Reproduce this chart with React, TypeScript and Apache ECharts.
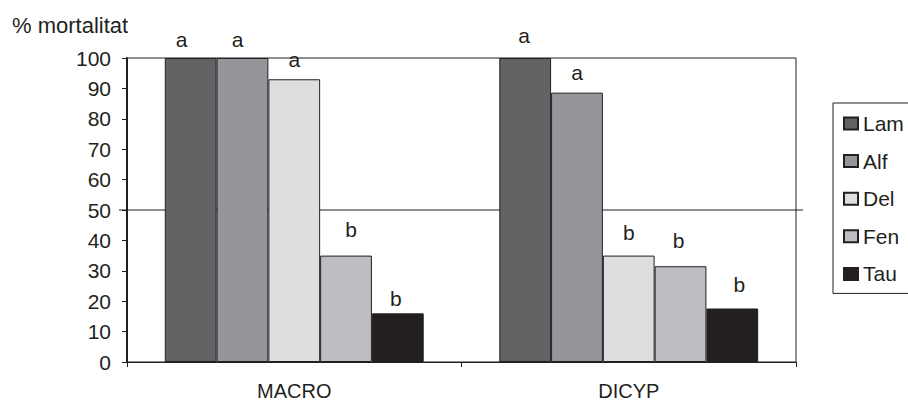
import React, { useEffect, useRef } from "react";
import * as echarts from "echarts";

const categories = ["MACRO", "DICYP"];
const seriesNames = ["Lam", "Alf", "Del", "Fen", "Tau"];
const seriesColors = ["#636365", "#959699", "#dddee0", "#bdbec1", "#231f20"];
// values per series: [MACRO, DICYP]
const lamValues = [100, 100];
const alfValues = [100, 88.6];
const delValues = [93, 35];
const fenValues = [35, 31.5];
const tauValues = [16, 17.6];
// significance letters per series: [MACRO, DICYP]
const lamLetters = ["a", "a"];
const alfLetters = ["a", "a"];
const delLetters = ["a", "b"];
const fenLetters = ["b", "b"];
const tauLetters = ["b", "b"];
const yTicks = [0, 10, 20, 30, 40, 50, 60, 70, 80, 90, 100];
const thresholdValue = 50;

// label nudges [dx, dy] per series per category (style only)
const labelNudges = [
  [[-9, 0], [-1, -4]],
  [[-5, 0], [0, -2]],
  [[0, -1], [0, -5]],
  [[5, -8], [-2, -7]],
  [[-2, 4], [7, -5]],
];

const FONT = "'Liberation Sans', Arial, sans-serif";
const FS = 21;

export default function App() {
  const ref = useRef<HTMLDivElement>(null);
  useEffect(() => {
    if (!ref.current) return;
    const chart = echarts.init(ref.current, null, { renderer: "svg" });
    const values = [lamValues, alfValues, delValues, fenValues, tauValues];
    const letters = [lamLetters, alfLetters, delLetters, fenLetters, tauLetters];
    const series = seriesNames.map((name, si) => ({
      name,
      type: "bar",
      barGap: "0%",
      barCategoryGap: "22.6%",
      itemStyle: { color: seriesColors[si], borderColor: "#231f20", borderWidth: 1 },
      data: values[si].map((v, ci) => ({
        value: v,
        label: {
          show: true,
          position: "top",
          distance: 8,
          formatter: letters[si][ci],
          offset: labelNudges[si][ci],
          color: "#231f20",
          fontSize: FS,
          fontFamily: FONT,
        },
      })),
    }));
    chart.setOption({
      animation: false,
      textStyle: { fontFamily: FONT },
      title: {
        text: "% mortalitat",
        left: 12,
        top: 14,
        padding: 0,
        textStyle: { fontSize: 22, fontWeight: "normal", color: "#231f20", fontFamily: FONT },
      },
      legend: {
        orient: "vertical",
        left: 833,
        top: 103,
        padding: [10, 60, 9, 10],
        borderColor: "#231f20",
        borderWidth: 1,
        itemWidth: 14,
        itemHeight: 12,
        itemGap: 16.6,
        itemSymbolGap: 6,
        icon: "rect",
        textStyle: { fontSize: FS, color: "#231f20", fontFamily: FONT },
        data: seriesNames,
      },
      grid: {
        left: 127,
        right: 112,
        top: 58,
        bottom: 41,
        show: true,
        borderColor: "#231f20",
        borderWidth: 1,
      },
      xAxis: {
        type: "category",
        data: categories,
        axisLine: { lineStyle: { color: "#231f20", width: 1 } },
        axisTick: { show: true, length: 5, lineStyle: { color: "#231f20" } },
        axisLabel: { fontSize: 20, color: "#231f20", margin: 19, fontFamily: FONT },
      },
      yAxis: {
        type: "value",
        min: yTicks[0],
        max: yTicks[yTicks.length - 1],
        interval: yTicks[1] - yTicks[0],
        axisLine: { show: true, lineStyle: { color: "#231f20", width: 2 } },
        axisTick: { show: true, length: 5, lineStyle: { color: "#231f20" } },
        splitLine: { show: false },
        axisLabel: { fontSize: FS, color: "#231f20", margin: 16, fontFamily: FONT },
      },
      series,
    });
    const y50 = chart.convertToPixel({ yAxisIndex: 0 }, thresholdValue) as number;
    const xl = chart.convertToPixel({ xAxisIndex: 0 }, 0) as number;
    const xr = chart.convertToPixel({ xAxisIndex: 0 }, 1) as number;
    const half = (xr - xl) / 2;
    chart.setOption({
      graphic: [
        {
          type: "line",
          z: 1,
          shape: { x1: xl - half - 8, y1: y50, x2: xr + half + 7, y2: y50 },
          style: { stroke: "#231f20", lineWidth: 1 },
        },
      ],
    });
    return () => chart.dispose();
  }, []);
  return (
    <div
      ref={ref}
      style={{ position: "absolute", left: 0, top: 0, width: 908, height: 403 }}
    />
  );
}
